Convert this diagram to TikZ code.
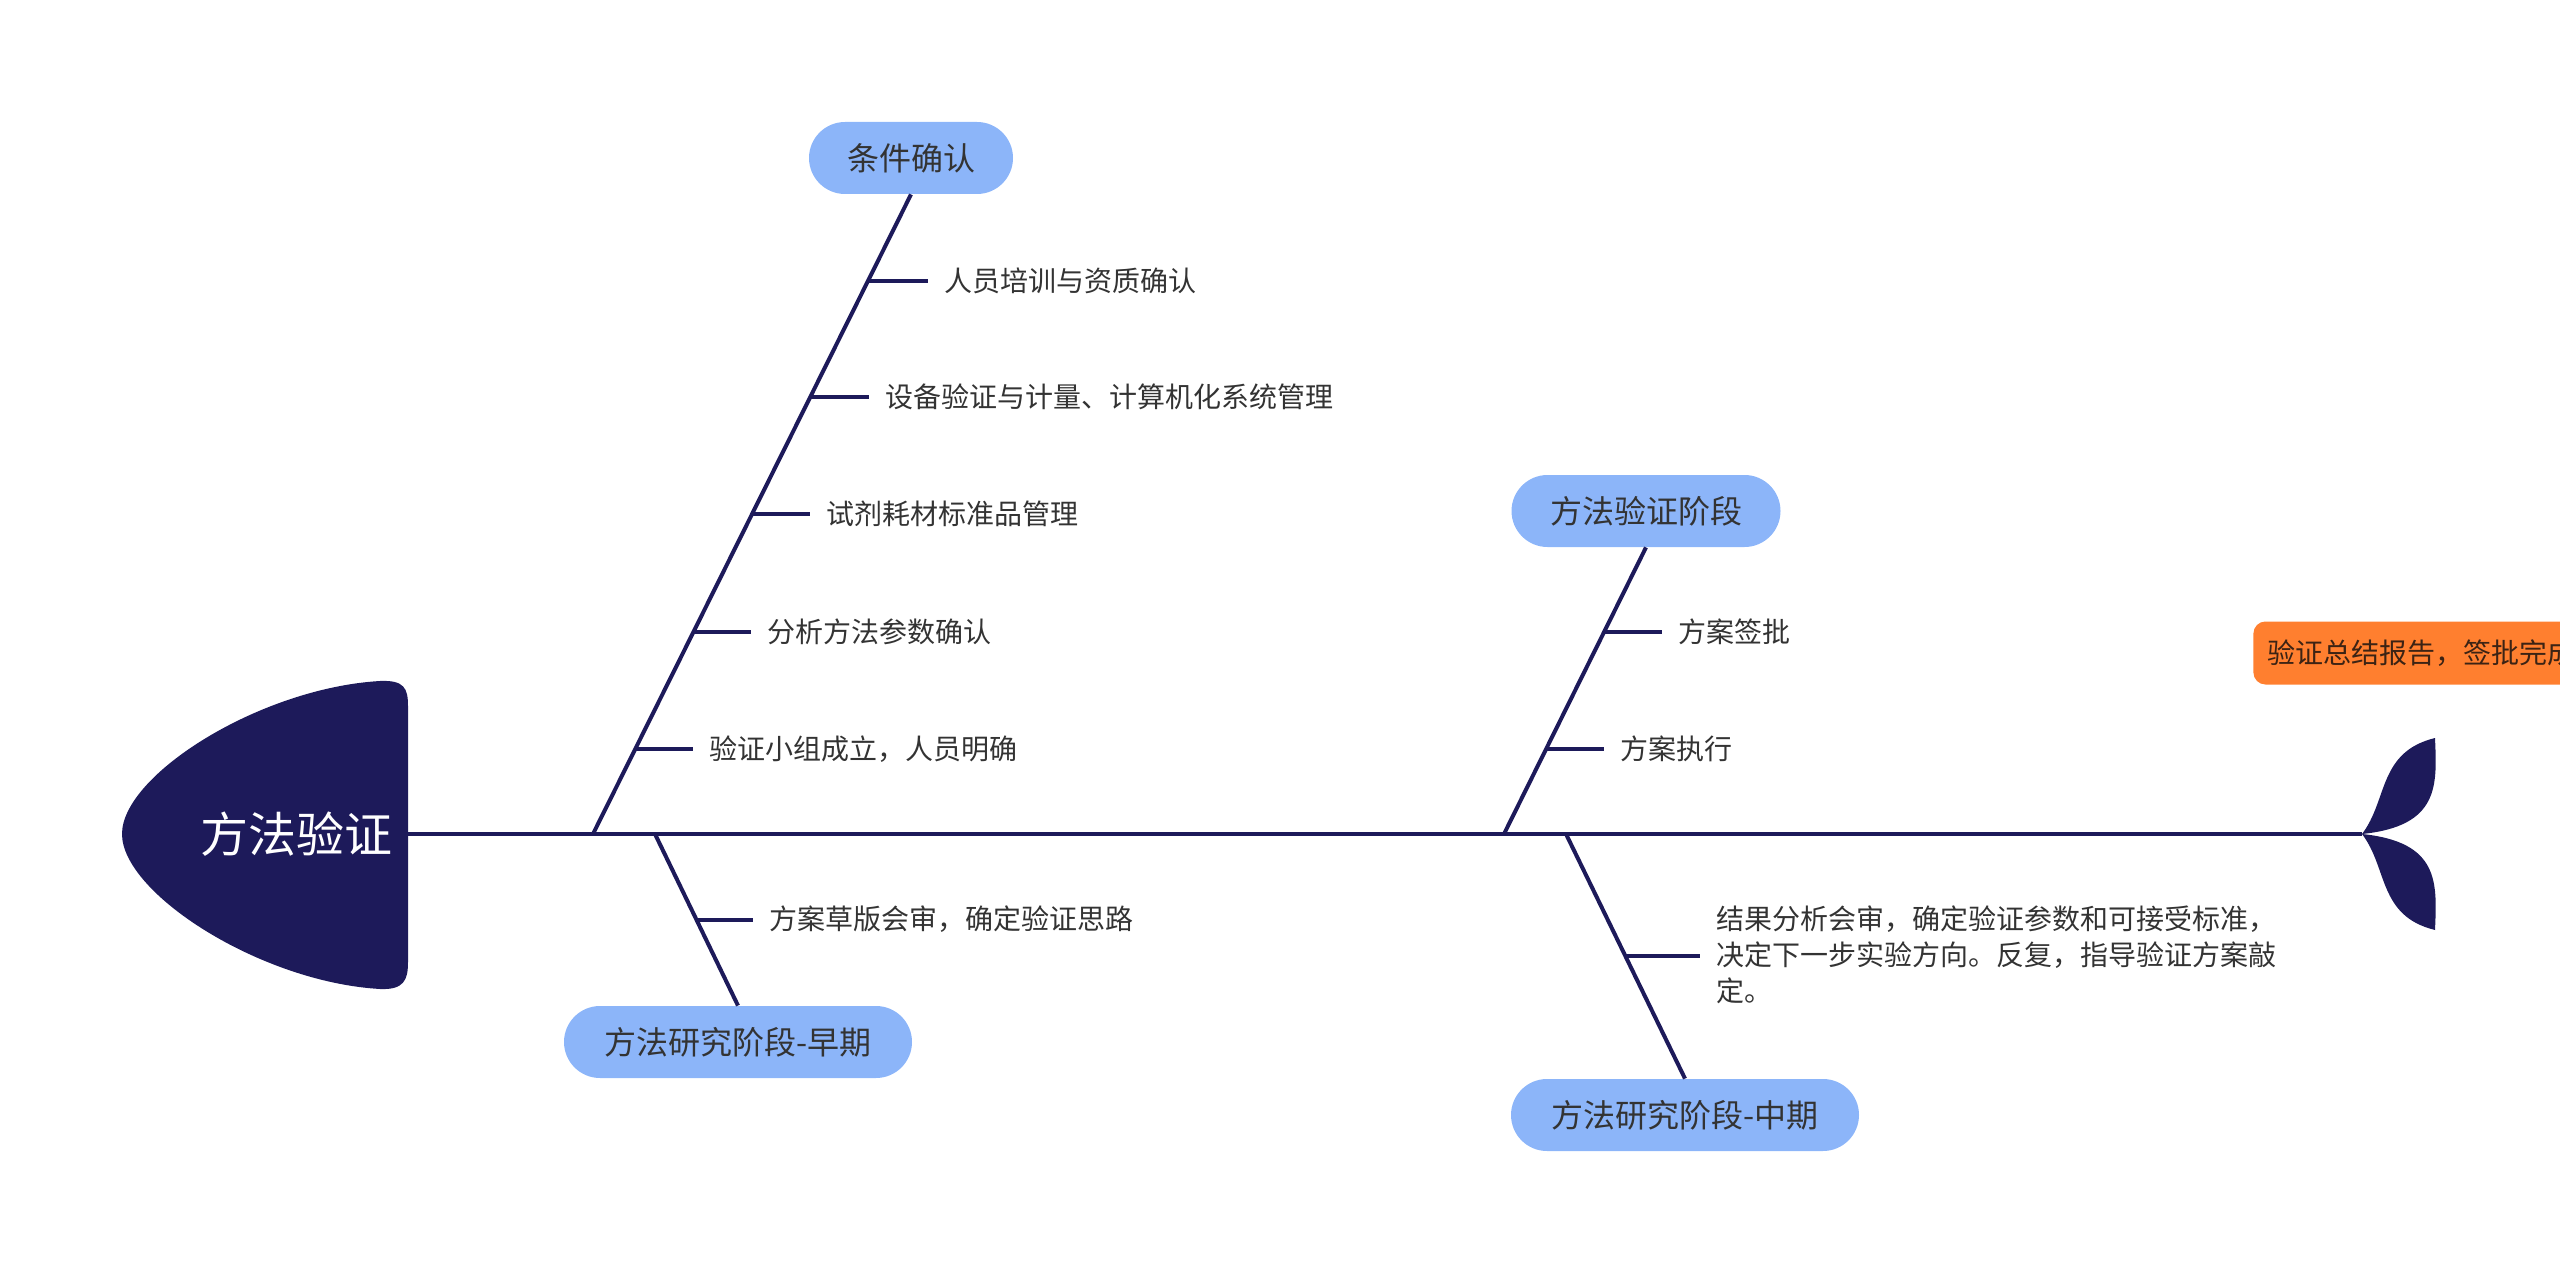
\documentclass[tikz,border=0pt]{standalone}
\usepackage{fontspec}
\setmainfont{Noto Sans CJK SC}
\usetikzlibrary{calc}
\definecolor{navy}{HTML}{1D1A5A}
\definecolor{pillblue}{HTML}{8CB5F9}
\definecolor{orangebox}{HTML}{FF7F2F}
\definecolor{txt}{HTML}{333333}
\begin{document}
\begin{tikzpicture}[x=0.5pt,y=-0.5pt,
  bone/.style={draw=navy,line width=2pt},
  tick/.style={draw=navy,line width=2pt},
  pill/.style={fill=pillblue,rounded corners=18pt,minimum height=36pt,inner xsep=12pt,
    text=txt,font=\fontsize{16}{19}\selectfont},
  leaf/.style={anchor=west,inner xsep=8pt,inner ysep=0pt,text=txt,font=\fontsize{14}{17}\selectfont},
]
\useasboundingbox (0,0) rectangle (2560,1273);
% head
\fill[navy] (380,681) .. controls (260,688) and (122,775) .. (122,834)
  .. controls (122,893) and (260,982) .. (380,989)
  .. controls (404,990) and (408,980) .. (408,962) -- (408,706)
  .. controls (408,688) and (404,680) .. (380,681) -- cycle;
\node[text=white,font=\fontsize{24}{28}\selectfont] (head) at (296,834) {方法验证};
% tail
\coordinate (joint) at (2362,834);
\fill[navy] (joint) .. controls (2388,800) and (2378,752) .. (2435,738)
  .. controls (2437,785) and (2440,826) .. (joint) -- cycle;
\fill[navy] (joint) .. controls (2388,868) and (2378,916) .. (2435,930)
  .. controls (2437,883) and (2440,842) .. (joint) -- cycle;
% spine
\coordinate (spineL) at (408,834);
\draw[bone] (spineL) -- (joint);
% pills
\node[pill,minimum width=102pt] (p1) at (911,158) {条件确认};
\node[pill,minimum width=174pt] (p2) at (738,1042) {方法研究阶段-早期};
\node[pill,minimum width=134.5pt] (p3) at (1646,511) {方法验证阶段};
\node[pill,minimum width=174pt] (p4) at (1685,1115) {方法研究阶段-中期};
% bones
\coordinate (b1) at (593,834);
\coordinate (b2) at (655,834);
\coordinate (b3) at (1504,834);
\coordinate (b4) at (1566,834);
\draw[bone] (b1) -- (p1.south)
  coordinate[pos=0.864] (t11) coordinate[pos=0.683] (t12) coordinate[pos=0.5] (t13)
  coordinate[pos=0.316] (t14) coordinate[pos=0.133] (t15);
\draw[bone] (b2) -- (p2.north) coordinate[pos=0.5] (t21);
\draw[bone] (b3) -- (p3.south) coordinate[pos=0.704] (t31) coordinate[pos=0.296] (t32);
\draw[bone] (b4) -- (p4.north) coordinate[pos=0.5] (t41);
% leaves
\node[leaf] (l11) at (928,281) {人员培训与资质确认};
\node[leaf] (l12) at (869,397) {设备验证与计量、计算机化系统管理};
\node[leaf] (l13) at (810,514) {试剂耗材标准品管理};
\node[leaf] (l14) at (751,632) {分析方法参数确认};
\node[leaf] (l15) at (693,749) {验证小组成立，人员明确};
\node[leaf] (l21) at (753,919) {方案草版会审，确定验证思路};
\node[leaf] (l31) at (1662,632) {方案签批};
\node[leaf] (l32) at (1604,749) {方案执行};
\node[leaf,align=left,font=\fontsize{14}{18}\selectfont] (l41) at (1700,955)
  {结果分析会审，确定验证参数和可接受标准，\\决定下一步实验方向。反复，指导验证方案敲\\定。};
\foreach \t/\l in {t11/l11,t12/l12,t13/l13,t14/l14,t15/l15,t21/l21,t31/l31,t32/l32}
  \draw[tick] (\t) -- (\t -| \l.west);
\draw[tick] (t41) -- (t41 -| l41.west);
% summary box
\node[anchor=west,fill=orangebox,rounded corners=6pt,minimum height=31.5pt,inner xsep=7pt,
  text={rgb,255:red,60;green,35;blue,20},font=\fontsize{14}{17}\selectfont] (sum) at (2253,653)
  {验证总结报告，签批完成};
\end{tikzpicture}
\end{document}
